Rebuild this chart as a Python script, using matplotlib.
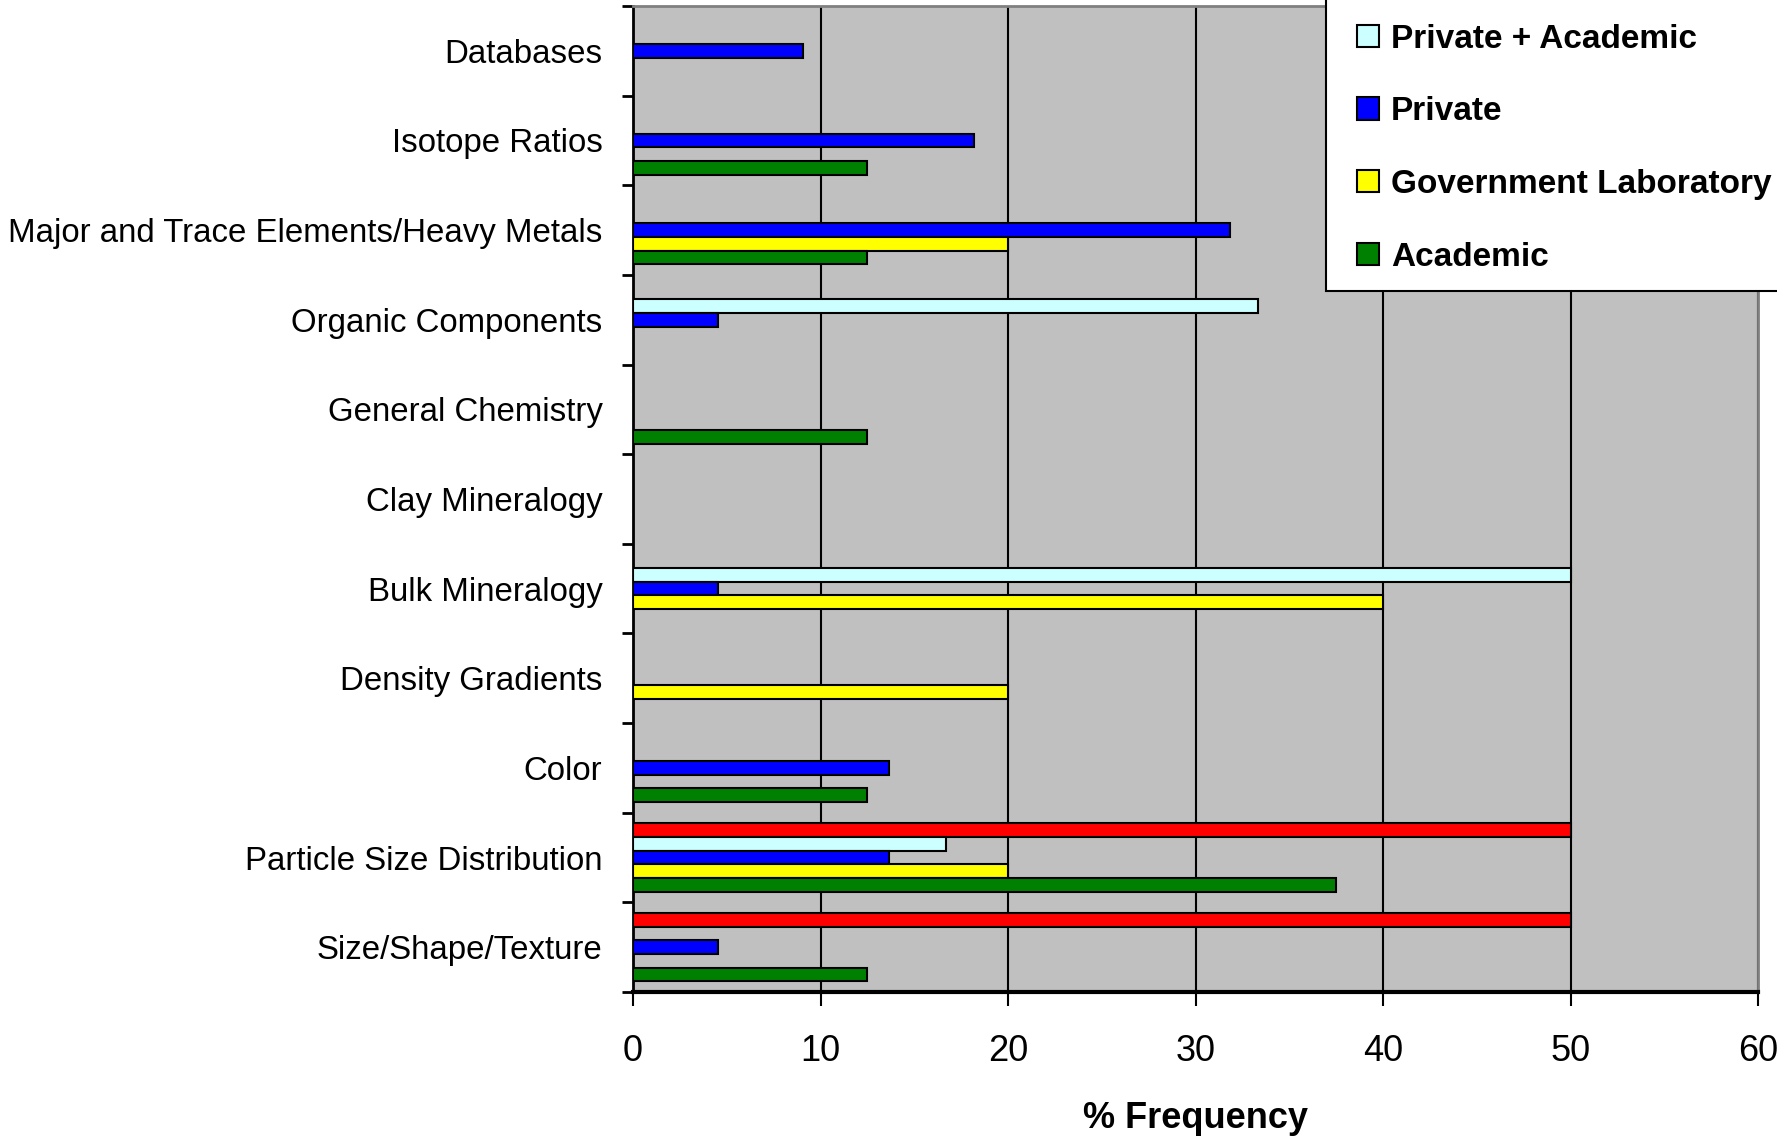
import numpy as np
import matplotlib
matplotlib.use("Agg")
import matplotlib.pyplot as plt
from matplotlib.patches import Patch, Rectangle

# analysis types, listed top to bottom
categories = ["Databases", "Isotope Ratios", "Major and Trace Elements/Heavy Metals",
              "Organic Components", "General Chemistry", "Clay Mineralogy",
              "Bulk Mineralogy", "Density Gradients", "Color",
              "Particle Size Distribution", "Size/Shape/Texture"]

# % frequency per respondent group (0 = not reported)
gov_academic = [0, 0, 0, 0, 0, 0, 0, 0, 0, 50.0, 50.0]
private_academic = [0, 0, 0, 33.33, 0, 0, 50.0, 0, 0, 16.67, 0]
private = [9.09, 18.18, 31.82, 4.55, 0, 0, 4.55, 0, 13.64, 13.64, 4.55]
government = [0, 0, 20.0, 0, 0, 0, 40.0, 20.0, 0, 20.0, 0]
academic = [0, 12.5, 12.5, 0, 12.5, 0, 0, 0, 12.5, 37.5, 12.5]

series = [
    (gov_academic, "#FF0000", None),
    (private_academic, "#CCFFFF", "Private + Academic"),
    (private, "#0000FF", "Private"),
    (government, "#FFFF00", "Government Laboratory"),
    (academic, "#008000", "Academic"),
]

label_font = ["Liberation Sans", "DejaVu Sans"]

fig = plt.figure(figsize=(17.77, 11.39), dpi=100)
ax = fig.add_axes([633 / 1777, 1 - 992 / 1139, 1125 / 1777, 986 / 1139])
ax.set_facecolor("#C0C0C0")

y = np.arange(len(categories))
h = 0.153
for k, (vals, col, _) in enumerate(series):
    vals = np.array(vals, dtype=float)
    keep = vals > 0
    ax.barh(y[keep] + (k - 2) * h, vals[keep], height=h, color=col,
            edgecolor="black", linewidth=1.5, zorder=3)

ax.set_xlim(0, 60)
ax.set_ylim(len(categories) - 0.5, -0.5)
ax.set_xticks(np.arange(0, 61, 10))
ax.set_xticklabels([str(v) for v in range(0, 61, 10)], family=label_font, fontsize=26)
ax.tick_params(axis="x", direction="out", length=10, width=1.5, pad=20)

ax.set_yticks(y)
ax.set_yticklabels(categories, family=label_font, fontsize=23.8)
ax.set_yticks(np.arange(-0.5, len(categories), 1.0), minor=True)
ax.tick_params(axis="y", which="major", length=0, pad=22)
ax.tick_params(axis="y", which="minor", direction="out", length=8, width=2)

ax.xaxis.grid(True, color="black", linewidth=1.5, zorder=1)
ax.set_axisbelow(True)

for side in ["top", "right"]:
    ax.spines[side].set_color("#808080")
    ax.spines[side].set_linewidth(2)
ax.spines["left"].set_linewidth(2)
ax.spines["bottom"].set_linewidth(3)

ax.set_xlabel("% Frequency", family=label_font, fontsize=26, fontweight="bold", labelpad=23)

# legend box runs off the top and right of the figure
fig.patches.append(Rectangle((1326 / 1777, 1 - 291 / 1139), 0.5, 0.5,
                             transform=fig.transFigure, facecolor="white",
                             edgecolor="black", linewidth=1.5, zorder=4))
handles = [Patch(facecolor=col, edgecolor="black", linewidth=1.5, label=lab)
           for _, col, lab in series if lab]
leg = fig.legend(handles=handles, loc="center left",
                 bbox_to_anchor=(1357 / 1777, 1 - 148 / 1139),
                 bbox_transform=fig.transFigure, borderaxespad=0, borderpad=0,
                 prop={"family": label_font, "weight": "bold", "size": 24},
                 handlelength=0.66, handleheight=0.66, handletextpad=0.36,
                 labelspacing=1.25, frameon=False)
leg.set_zorder(5)

fig.savefig("out.png", dpi=100)
